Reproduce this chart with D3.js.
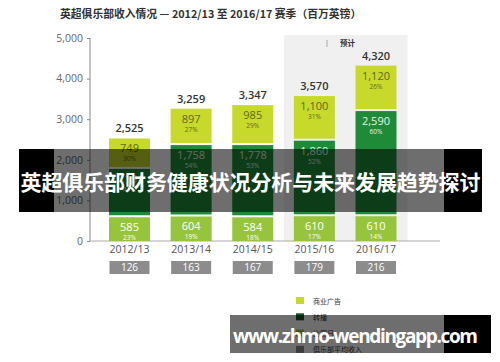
<!DOCTYPE html>
<html>
<head>
<meta charset="utf-8">
<script src="https://cdn.jsdelivr.net/npm/d3@7"></script>
<style>
  body { margin: 0; background: #fff; }
  svg { display: block; }
  text { font-family: "Open Sans", "Noto Sans CJK SC", sans-serif; }
</style>
</head>
<body>
<div id="chart"></div>
<script>
// seasons and revenue split (million GBP)
var seasons = ['2012/13', '2013/14', '2014/15', '2015/16', '2016/17'];
var matchday = [585, 604, 584, 610, 610];
var broadcast = [1191, 1758, 1778, 1860, 2590];
var commercial = [749, 897, 985, 1100, 1120];
var matchdayPct = ['23%', '19%', '18%', '17%', '14%'];
var broadcastPct = ['47%', '54%', '53%', '52%', '60%'];
var commercialPct = ['30%', '27%', '29%', '31%', '26%'];
var totals = [2525, 3259, 3347, 3570, 4320];
var avgRevenue = [126, 163, 167, 179, 216];
var yTicks = [0, 1000, 2000, 3000, 4000, 5000];
var forecastSeasons = ['2015/16', '2016/17'];
var legendLabels = ['商业广告', '转播', '比赛日', '俱乐部平均收入'];

(function(d3) {
  'use strict';
  var width = 500;
  var height = 362;
  var barWidth = 41;
  var gap = 2;

  var svg = d3.select('#chart')
    .append('svg')
    .attr('width', width)
    .attr('height', height);

  var x = d3.scalePoint()
    .domain(seasons)
    .range([129.5, 376]);
  var y = d3.scaleLinear()
    .domain([0, 5000])
    .range([241, 38]);

  // title
  svg.append('text')
    .attr('x', 60)
    .attr('y', 18)
    .attr('font-size', 10.8)
    .attr('font-weight', 'bold')
    .attr('fill', '#333')
    .attr('xml:space', 'preserve')
    .style('white-space', 'pre')
    .style('font-family', '"Noto Sans CJK SC", sans-serif')
    .text('英超俱乐部收入情况 — 2012/13 至 2016/17 赛季（百万英镑）');

  // forecast shading
  var fx0 = x(forecastSeasons[0]) - barWidth / 2 - 10;
  var fx1 = x(forecastSeasons[1]) + barWidth / 2 + 11;
  svg.append('rect')
    .attr('x', fx0)
    .attr('y', 35)
    .attr('width', fx1 - fx0)
    .attr('height', y(0) - 35)
    .attr('fill', '#f0f0f0');
  svg.append('line')
    .attr('x1', 327).attr('x2', 327)
    .attr('y1', 40).attr('y2', 47)
    .attr('stroke', '#999')
    .attr('stroke-width', 0.8);
  svg.append('text')
    .attr('x', 340)
    .attr('y', 46)
    .attr('font-size', 7.5)
    .attr('font-weight', 'bold')
    .attr('fill', '#333')
    .style('font-family', '"Noto Sans CJK SC", sans-serif')
    .text('预计');

  // y axis
  var yAxis = d3.axisLeft(y)
    .tickValues(yTicks)
    .tickSize(3)
    .tickPadding(4)
    .tickFormat(d3.format(','));
  var gy = svg.append('g')
    .attr('transform', 'translate(90,0)')
    .call(yAxis);
  gy.select('.domain').attr('stroke', '#888').attr('d', 'M0,' + y(5000) + 'V' + y(0));
  gy.selectAll('.tick line').attr('stroke', '#888');
  gy.selectAll('.tick text')
    .attr('font-size', 10.5)
    .attr('fill', '#666')
    .style('font-family', '"Open Sans", sans-serif');

  // x axis line
  svg.append('line')
    .attr('x1', 90).attr('x2', 440)
    .attr('y1', y(0)).attr('y2', y(0))
    .attr('stroke', '#aaa')
    .attr('stroke-width', 1);

  // stacked bars
  var layers = [
    { vals: matchday, pct: matchdayPct, fill: '#96c43c', txt: '#ffffff' },
    { vals: broadcast, pct: broadcastPct, fill: '#1f8b38', txt: '#e6f3e2' },
    { vals: commercial, pct: commercialPct, fill: '#c7d92b', txt: '#5e6a1c' }
  ];
  seasons.forEach(function(s, i) {
    var base = 0;
    layers.forEach(function(l) {
      var v = l.vals[i];
      var top = y(base + v);
      var bottom = y(base) - (base > 0 ? gap : 0);
      var cx = x(s);
      svg.append('rect')
        .attr('x', cx - barWidth / 2)
        .attr('y', top)
        .attr('width', barWidth)
        .attr('height', bottom - top)
        .attr('fill', l.fill);
      svg.append('text')
        .attr('x', cx)
        .attr('y', top + 14)
        .attr('text-anchor', 'middle')
        .attr('font-size', 11)
        .attr('fill', l.txt)
        .text(d3.format(',')(v));
      svg.append('text')
        .attr('x', cx)
        .attr('y', top + 23)
        .attr('text-anchor', 'middle')
        .attr('font-size', 6.5)
        .attr('fill', l.txt)
        .text(l.pct[i]);
      base += v;
    });
    svg.append('text')
      .attr('x', x(s))
      .attr('y', y(totals[i]) - 6)
      .attr('text-anchor', 'middle')
      .attr('font-size', 11)
      .attr('font-weight', 600)
      .attr('fill', '#333')
      .text(d3.format(',')(totals[i]));
    // season label
    svg.append('text')
      .attr('x', x(s))
      .attr('y', 253)
      .attr('text-anchor', 'middle')
      .attr('font-size', 10.5)
      .attr('fill', '#555')
      .text(s);
    // average revenue box
    svg.append('rect')
      .attr('x', x(s) - 20)
      .attr('y', 261)
      .attr('width', 40)
      .attr('height', 13)
      .attr('fill', '#8c8c8c');
    svg.append('text')
      .attr('x', x(s))
      .attr('y', 271)
      .attr('text-anchor', 'middle')
      .attr('font-size', 10)
      .attr('fill', '#fff')
      .text(avgRevenue[i]);
  });

  // legend
  var legendColors = ['#c7d92b', '#0f5a24', '#96c43c', '#8c8c8c'];
  var legend = svg.selectAll('.legend')
    .data(legendLabels)
    .enter()
    .append('g')
    .attr('class', 'legend')
    .attr('transform', function(d, i) {
      return 'translate(296,' + (297 + i * 16.3) + ')';
    });
  legend.append('rect')
    .attr('width', 8)
    .attr('height', 7)
    .attr('fill', function(d, i) { return legendColors[i]; });
  legend.append('text')
    .attr('x', 17)
    .attr('y', 6.5)
    .attr('font-size', 7)
    .attr('fill', '#333')
    .style('font-family', '"Noto Sans CJK SC", sans-serif')
    .text(function(d) { return d; });

  // caption banner overlay
  svg.append('rect').attr('x', 19).attr('y', 149).attr('width', 35).attr('height', 63).attr('fill', '#000');
  svg.append('rect').attr('x', 54).attr('y', 149).attr('width', 390).attr('height', 63).attr('fill', '#000').attr('fill-opacity', 0.57);
  svg.append('rect').attr('x', 444).attr('y', 149).attr('width', 38).attr('height', 63).attr('fill', '#000');
  svg.append('text')
    .attr('x', 250.5)
    .attr('y', 190)
    .attr('text-anchor', 'middle')
    .attr('font-size', 21)
    .attr('font-weight', 'bold')
    .attr('fill', '#fff')
    .attr('textLength', 460)
    .style('font-family', '"Noto Sans CJK SC", sans-serif')
    .text('英超俱乐部财务健康状况分析与未来发展趋势探讨');

  // watermark
  svg.append('rect').attr('x', 230).attr('y', 315).attr('width', 214).attr('height', 38).attr('fill', '#000').attr('fill-opacity', 0.57);
  svg.append('rect').attr('x', 444).attr('y', 315).attr('width', 47).attr('height', 38).attr('fill', '#000');
  svg.append('text')
    .attr('x', 233)
    .attr('y', 343)
    .attr('font-size', 19)
    .attr('font-weight', 'bold')
    .attr('fill', '#fff')
    .attr('textLength', 245)
    .style('font-family', '"Open Sans", sans-serif')
    .text('www.zhmo-wendingapp.com');
})(window.d3);
</script>
</body>
</html>
